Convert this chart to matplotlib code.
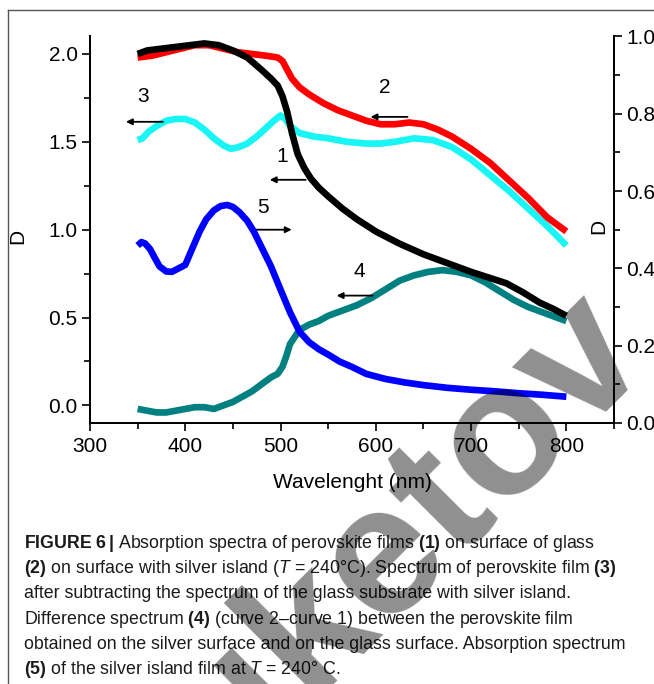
import matplotlib
matplotlib.use("Agg")
import matplotlib.pyplot as plt
from matplotlib import font_manager
from matplotlib.lines import Line2D
from matplotlib.ticker import FixedLocator, FormatStrFormatter

W, H = 654, 684

# curve 1 - perovskite film on glass (left axis)
wl_1 = [350, 360, 375, 390, 405, 420, 435, 450, 465, 480, 490, 497, 502, 507, 512,
        518, 525, 532, 540, 550, 565, 580, 600, 625, 650, 675, 700, 720, 737, 754, 772, 786, 800]
d_1 = [2.00, 2.02, 2.03, 2.04, 2.05, 2.06, 2.05, 2.02, 1.98, 1.91, 1.86, 1.82, 1.76, 1.67, 1.55,
       1.43, 1.35, 1.29, 1.24, 1.19, 1.12, 1.06, 0.99, 0.92, 0.86, 0.81, 0.76, 0.725, 0.695, 0.645, 0.585, 0.55, 0.51]

# curve 2 - film on silver islands (left axis)
wl_2 = [350, 365, 380, 395, 410, 425, 440, 455, 470, 485, 497, 502, 507, 512, 520, 530, 545,
        560, 575, 590, 605, 620, 635, 650, 665, 680, 700, 720, 740, 760, 780, 800]
d_2 = [1.98, 1.99, 2.01, 2.03, 2.05, 2.05, 2.03, 2.01, 2.00, 1.99, 1.98, 1.96, 1.91, 1.86, 1.81, 1.77, 1.72,
       1.68, 1.65, 1.62, 1.60, 1.60, 1.61, 1.60, 1.57, 1.53, 1.46, 1.38, 1.28, 1.18, 1.07, 0.99]

# curve 3 - film after subtracting substrate (left axis)
wl_3 = [350, 355, 362, 370, 380, 390, 400, 410, 420, 430, 440, 448, 456, 465, 475, 485, 493, 500,
        505, 510, 520, 535, 550, 570, 590, 605, 620, 640, 660, 680, 700, 720, 740, 760, 780, 800]
d_3 = [1.51, 1.52, 1.56, 1.59, 1.62, 1.63, 1.63, 1.61, 1.57, 1.52, 1.48, 1.46, 1.47, 1.49, 1.53, 1.58, 1.62, 1.65,
       1.63, 1.59, 1.55, 1.53, 1.52, 1.50, 1.49, 1.49, 1.50, 1.52, 1.51, 1.47, 1.40, 1.31, 1.22, 1.12, 1.02, 0.91]

# curve 4 - difference spectrum 2-1 (left axis)
wl_4 = [350, 360, 370, 380, 390, 400, 410, 420, 430, 440, 450, 460, 470, 480, 490, 497, 502, 506,
        510, 515, 520, 530, 540, 550, 565, 580, 595, 610, 625, 640, 655, 670, 685, 700, 715, 730,
        745, 760, 780, 800]
d_4 = [-0.02, -0.03, -0.04, -0.04, -0.03, -0.02, -0.01, -0.01, -0.02, 0.0, 0.02, 0.05, 0.08, 0.12, 0.16, 0.18, 0.22, 0.28,
       0.35, 0.39, 0.43, 0.46, 0.48, 0.51, 0.54, 0.57, 0.61, 0.66, 0.71, 0.74, 0.76, 0.77, 0.76, 0.74, 0.70, 0.65,
       0.60, 0.56, 0.52, 0.48]

# curve 5 - silver island film (right axis)
wl_5 = [350, 354, 358, 363, 368, 373, 380, 386, 393, 400, 408, 415, 422, 430, 437, 444, 450, 457,
        465, 472, 480, 490, 500, 510, 520, 530, 540, 550, 562, 575, 590, 610, 630, 650, 675, 700,
        725, 750, 775, 800]
d_5 = [0.459, 0.468, 0.464, 0.450, 0.427, 0.405, 0.392, 0.391, 0.400, 0.409, 0.455, 0.495, 0.527, 0.550, 0.561,
       0.564, 0.559, 0.545, 0.523, 0.495, 0.455, 0.405, 0.345, 0.286, 0.236, 0.209, 0.191, 0.177, 0.159, 0.145,
       0.127, 0.114, 0.105, 0.098, 0.091, 0.086, 0.082, 0.077, 0.073, 0.068]

# curve number labels: (text, label x, label y, arrow head x, arrow tail x, arrow y)
marks = [
    ("3", 355.6, 1.756, 337.7, 376.5, 1.614),
    ("1", 501.3, 1.415, 488.7, 526.4, 1.284),
    ("5", 481.3, 1.125, 511.7, 469.8, 1.000),
    ("2", 609.2, 1.807, 594.5, 633.3, 1.642),
    ("4", 583.0, 0.761, 558.9, 596.6, 0.625),
]

caption = [
    r"$\mathbf{FIGURE\ 6\,|}$ Absorption spectra of perovskite films $\mathbf{(1)}$ on surface of glass",
    r"$\mathbf{(2)}$ on surface with silver island ($\mathit{T}$ = 240°C). Spectrum of perovskite film $\mathbf{(3)}$",
    "after subtracting the spectrum of the glass substrate with silver island.",
    r"Difference spectrum $\mathbf{(4)}$ (curve 2–curve 1) between the perovskite film",
    "obtained on the silver surface and on the glass surface. Absorption spectrum",
    r"$\mathbf{(5)}$ of the silver island film at $\mathit{T}$ = 240° C.",
]

names = {f.name for f in font_manager.fontManager.ttflist}
cap_font = "Liberation Sans Narrow" if "Liberation Sans Narrow" in names else "Liberation Sans"

plt.rcParams["font.family"] = ["Liberation Sans", "DejaVu Sans"]
plt.rcParams["mathtext.fontset"] = "custom"
plt.rcParams["mathtext.rm"] = cap_font
plt.rcParams["mathtext.bf"] = cap_font + ":bold"
plt.rcParams["mathtext.it"] = cap_font + ":italic"

fig = plt.figure(figsize=(W / 100, H / 100), dpi=100)
ax = fig.add_axes([90 / W, (H - 423) / H, (614 - 90) / W, (423 - 36.4) / H])
ax2 = ax.twinx()

lw = 4.8
ax.plot(wl_4, d_4, color="#008080", lw=lw, solid_capstyle="butt")
ax.plot(wl_3, d_3, color="#19f5f5", lw=lw, solid_capstyle="butt")
ax.plot(wl_2, d_2, color="#ff0000", lw=lw, solid_capstyle="butt")
ax.plot(wl_1, d_1, color="#000000", lw=lw, solid_capstyle="butt")
ax2.plot(wl_5, d_5, color="#0000ff", lw=lw, solid_capstyle="butt")

for txt, lx, ly, hx, tx, ay in marks:
    ax.text(lx, ly, txt, fontsize=15, ha="center", va="center")
    ax.annotate("", xy=(hx, ay), xytext=(tx, ay),
                arrowprops=dict(arrowstyle="-|>", color="black", lw=1.3,
                                mutation_scale=9, shrinkA=0, shrinkB=0))

ax.set_xlim(300, 850)
ax.set_ylim(-0.1, 2.1)
ax2.set_ylim(0, 1.0)

ax.xaxis.set_major_locator(FixedLocator([300, 400, 500, 600, 700, 800]))
ax.xaxis.set_minor_locator(FixedLocator([350, 450, 550, 650, 750, 850]))
ax.yaxis.set_major_locator(FixedLocator([0.0, 0.5, 1.0, 1.5, 2.0]))
ax.yaxis.set_minor_locator(FixedLocator([0.25, 0.75, 1.25, 1.75]))
ax.yaxis.set_major_formatter(FormatStrFormatter("%.1f"))
ax2.yaxis.set_major_locator(FixedLocator([0.0, 0.2, 0.4, 0.6, 0.8, 1.0]))
ax2.yaxis.set_minor_locator(FixedLocator([0.1, 0.3, 0.5, 0.7, 0.9]))
ax2.yaxis.set_major_formatter(FormatStrFormatter("%.1f"))

for a in (ax, ax2):
    a.spines["top"].set_visible(False)
    for s in a.spines.values():
        s.set_linewidth(1.3)
    a.tick_params(which="major", direction="out", length=6, width=1.2, labelsize=15, pad=3)
    a.tick_params(which="minor", direction="out", length=4, width=1.2)
ax.tick_params(axis="x", pad=4)

ax.set_xlabel("Wavelenght (nm)", fontsize=15, labelpad=12)
fig.text(18 / W, 1 - 236 / H, "D", fontsize=15, rotation=90, ha="center", va="center")
fig.text(599 / W, 1 - 226 / H, "D", fontsize=15, rotation=90, ha="center", va="center")

# caption
fig.canvas.draw()
renderer = fig.canvas.get_renderer()
probe = fig.text(0, 0, caption[4], fontsize=13, family=cap_font)
cap_size = 13 * 601 / probe.get_window_extent(renderer).width
probe.remove()
baselines = [548, 573, 598.5, 623.5, 649, 674]
for line, yb in zip(caption, baselines):
    fig.text(24 / W, 1 - yb / H, line, fontsize=cap_size, family=cap_font,
             ha="left", va="baseline", color="#1a1a1a")

# frame around the figure panel
fig.add_artist(Line2D([8 / W, 8 / W], [0, 1 - 10 / H], transform=fig.transFigure,
                      color="#555555", lw=1))
fig.add_artist(Line2D([8 / W, 1], [1 - 10 / H, 1 - 10 / H], transform=fig.transFigure,
                      color="#555555", lw=1))

# watermark
fig.text(392 / W, 1 - 614 / H, "Buketov", fontsize=134, fontweight="bold",
         family="Liberation Sans", rotation=45, rotation_mode="anchor",
         ha="center", va="baseline", color="black", alpha=0.44, zorder=10)

fig.savefig("out.png", dpi=100)
